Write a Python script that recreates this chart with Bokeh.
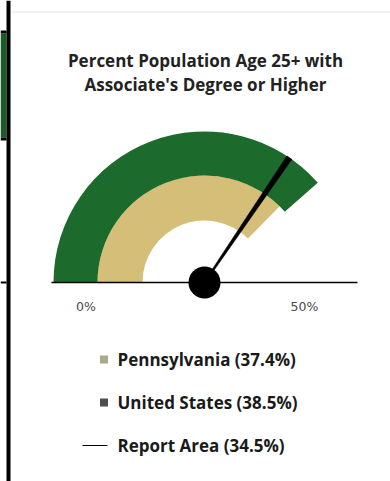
import math
from bokeh.plotting import figure
from bokeh.models import Range1d
from bokeh.core.properties import value
from bokeh.embed import file_html
from bokeh.resources import INLINE

# ---- data ----
title_lines = ["Percent Population Age 25+ with", "Associate's Degree or Higher"]
series_names = ["Pennsylvania", "United States"]
series_values = [37.4, 38.5]
report_name = "Report Area"
report_value = 34.5
gauge_min = 0
gauge_max = 50
tick_labels = ["0%", "50%"]

W, H = 390, 481
FONT = "Open Sans"

def Y(y):
    return H - y

def ang(v):
    return math.pi * (1 - (v - gauge_min) / (gauge_max - gauge_min))

p = figure(width=W, height=H, output_backend="svg", toolbar_location=None,
           x_range=Range1d(0, W), y_range=Range1d(0, H), min_border=0)
p.axis.visible = False
p.grid.visible = False
p.outline_line_color = None
p.background_fill_color = "white"
p.border_fill_color = "white"

# ---- page decorations (left strip, card border) ----
p.quad(left=[0], right=[6], bottom=[Y(137)], top=[Y(33)], fill_color="#1d5a28", line_color=None)
p.quad(left=[0], right=[6], bottom=[Y(33)], top=[Y(30)], fill_color="black", line_color=None)
p.quad(left=[0], right=[6], bottom=[Y(140)], top=[Y(137)], fill_color="black", line_color=None)
p.quad(left=[0], right=[6], bottom=[Y(283)], top=[Y(281)], fill_color="black", line_color=None)
p.quad(left=[6], right=[10], bottom=[0], top=[H], fill_color="black", line_color=None)
p.segment(x0=[11], y0=[Y(11.5)], x1=[W], y1=[Y(11.5)], line_color="#e2e2e2", line_width=1)

# ---- gauge ----
cx, cy = 204, Y(282)
colors = ["#d5bf78", "#1c6b2c"]
radii = [(62, 107), (107, 151)]
for v, c, (ri, ro) in zip(series_values, colors, radii):
    p.annular_wedge(x=[cx], y=[cy], inner_radius=ri, outer_radius=ro,
                    start_angle=ang(gauge_min), end_angle=ang(v), direction="clock",
                    fill_color=c, line_color=None)

# baseline
p.segment(x0=[51], y0=[cy], x1=[357], y1=[cy], line_color="black", line_width=1.5)

# needle (tapered)
a = ang(report_value)
ux, uy = math.cos(a), math.sin(a)
nx, ny = -uy, ux
r_tip = 151
w0, w1 = 0.8, 3.0
xs = [cx + nx * w0, cx + ux * r_tip + nx * w1, cx + ux * r_tip - nx * w1, cx - nx * w0]
ys = [cy + ny * w0, cy + uy * r_tip + ny * w1, cy + uy * r_tip - ny * w1, cy - ny * w0]
p.patch(xs, ys, fill_color="black", line_color="black", line_width=0.5)

# hub
p.circle(x=[cx], y=[cy], radius=16, fill_color="black", line_color=None)

# tick labels
p.text(x=[85.5, 304], y=[Y(305.5), Y(305.5)], text=tick_labels, text_align="center",
       text_baseline="middle", text_font=value("DejaVu Sans"), text_font_size="12.5px",
       text_color="#4a4a4a")

# title
p.text(x=[205, 205], y=[Y(60), Y(84)], text=title_lines, text_align="center",
       text_baseline="middle", text_font=value(FONT), text_font_style="bold",
       text_font_size="17px", text_color="#222222")

# legend
leg_y = [359, 402, 445]
marker_colors = ["#a9a98b", "#4d4d4d"]
for yy, c in zip(leg_y[:2], marker_colors):
    p.scatter(x=[103.5], y=[Y(yy)], marker="square", size=8, fill_color=c, line_color=None)
p.segment(x0=[82], y0=[Y(445)], x1=[107], y1=[Y(445)], line_color="black", line_width=1)
leg_labels = [f"{n} ({v}%)" for n, v in zip(series_names, series_values)] + [f"{report_name} ({report_value}%)"]
p.text(x=[117, 117, 117], y=[Y(yy) for yy in leg_y], text=leg_labels, text_align="left",
       text_baseline="middle", text_font=value(FONT), text_font_style="bold",
       text_font_size="17px", text_color="#1a1a1a")

open("out.html", "w").write(file_html(p, INLINE))
